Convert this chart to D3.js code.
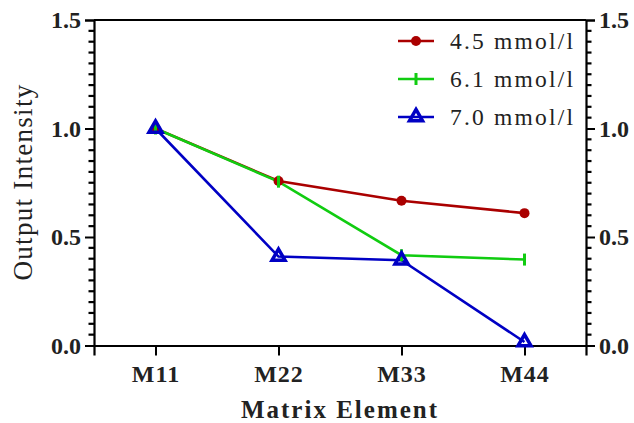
<!DOCTYPE html>
<html><head><meta charset="utf-8">
<script src="https://cdn.jsdelivr.net/npm/d3@7"></script>
<style>body{margin:0;background:#fff}svg{display:block}text{font-family:"Liberation Serif","Times New Roman",serif;fill:#222}</style>
</head><body><svg id="c" width="634" height="423"></svg>
<script>
const categories = ["M11","M22","M33","M44"];
const s45 = [1.0, 0.758, 0.667, 0.610];
const s61 = [1.0, 0.755, 0.416, 0.396];
const s70 = [1.0, 0.410, 0.393, 0.016];
const seriesNames = ["4.5 mmol/l","6.1 mmol/l","7.0 mmol/l"];
const yTicks = [0, 0.5, 1.0, 1.5];
const minorTicks = [0.05,0.1,0.15,0.2,0.25,0.3,0.35,0.4,0.45,0.55,0.6,0.65,0.7,0.75,0.8,0.85,0.9,0.95,
                    1.05,1.1,1.15,1.2,1.25,1.3,1.35,1.4,1.45];

const svg = d3.select("#c");
const L = 94, R = 586, T = 20, B = 345.5;
const x = d3.scalePoint().domain(categories).range([L, R]).padding(0.5);
const y = d3.scaleLinear().domain([0, 1.5]).range([B, T]);

const gl2 = svg.append("g").attr("transform", `translate(${L},0)`)
  .call(d3.axisLeft(y).tickValues(yTicks).tickSize(9).tickPadding(4).tickFormat(d3.format(".1f")));
const gr2 = svg.append("g").attr("transform", `translate(${R},0)`)
  .call(d3.axisRight(y).tickValues(yTicks).tickSize(9).tickPadding(4).tickFormat(d3.format(".1f")));
const gb = svg.append("g").attr("transform", `translate(0,${B})`)
  .call(d3.axisBottom(x).tickSize(10).tickPadding(9));
svg.append("line").attr("x1", L).attr("x2", R).attr("y1", T).attr("y2", T).attr("stroke", "#000").attr("stroke-width", 2);

svg.selectAll(".domain").attr("stroke", "#000").attr("stroke-width", 2.2);
svg.selectAll(".tick line").attr("stroke", "#000").attr("stroke-width", 2);
svg.selectAll(".tick text").attr("font-size", 24).attr("font-weight", "bold")
  .style("font-family", '"Liberation Serif",serif').attr("fill", "#222");
gb.selectAll(".tick text").attr("letter-spacing", 1);

// minor ticks (left & right)
const minorG = svg.append("g").attr("class", "minor-ticks");
minorG.selectAll("rect.l").data(minorTicks).enter().append("rect").attr("class", "l")
  .attr("x", L - 5.5).attr("y", d => y(d) - 1.1).attr("width", 5.5).attr("height", 2.2).attr("fill", "#000");
minorG.selectAll("rect.r").data(minorTicks).enter().append("rect").attr("class", "r")
  .attr("x", R).attr("y", d => y(d) - 1.1).attr("width", 5.5).attr("height", 2.2).attr("fill", "#000");

svg.append("text").attr("x", 340).attr("y", 418).attr("text-anchor", "middle")
  .attr("font-size", 25).attr("font-weight", "bold").attr("letter-spacing", 2).text("Matrix Element");
svg.append("text").attr("transform", `translate(32,182) rotate(-90)`).attr("text-anchor", "middle")
  .attr("font-size", 27).attr("letter-spacing", 1.3).text("Output Intensity");

const colors = ["#AA0000", "#11CC11", "#0000C4"];
const data = [s45, s61, s70];
const line = d3.line().x((d, i) => x(categories[i])).y(d => y(d));

function marker(g, k, cx, cy) {
  if (k === 0) {
    g.append("circle").attr("cx", cx).attr("cy", cy).attr("r", 5).attr("fill", colors[0]);
  } else if (k === 1) {
    g.append("line").attr("x1", cx).attr("x2", cx).attr("y1", cy - 6).attr("y2", cy + 6)
      .attr("stroke", colors[1]).attr("stroke-width", 3);
  } else {
    const s = 13, h = s * Math.sqrt(3) / 2;
    g.append("path").attr("d", `M${cx},${cy - h*2/3}L${cx + s/2},${cy + h/3}L${cx - s/2},${cy + h/3}Z`)
      .attr("fill", "none").attr("stroke", colors[2]).attr("stroke-width", 3.5).attr("stroke-linejoin", "miter");
  }
}

data.forEach((vals, k) => {
  svg.append("path").datum(vals).attr("d", line).attr("fill", "none")
    .attr("stroke", colors[k]).attr("stroke-width", 2.6);
});
data.forEach((vals, k) => {
  const g = svg.append("g");
  vals.forEach((v, i) => marker(g, k, x(categories[i]), y(v)));
});

const legY = [41, 79, 117];
seriesNames.forEach((n, k) => {
  const g = svg.append("g");
  g.append("line").attr("x1", 398).attr("x2", 434).attr("y1", legY[k]).attr("y2", legY[k])
    .attr("stroke", colors[k]).attr("stroke-width", 2.6);
  marker(g, k, 416, legY[k]);
  g.append("text").attr("x", 450).attr("y", legY[k] + 8).attr("font-size", 23.5)
    .attr("letter-spacing", 2.2).text(n);
});
</script></body></html>
